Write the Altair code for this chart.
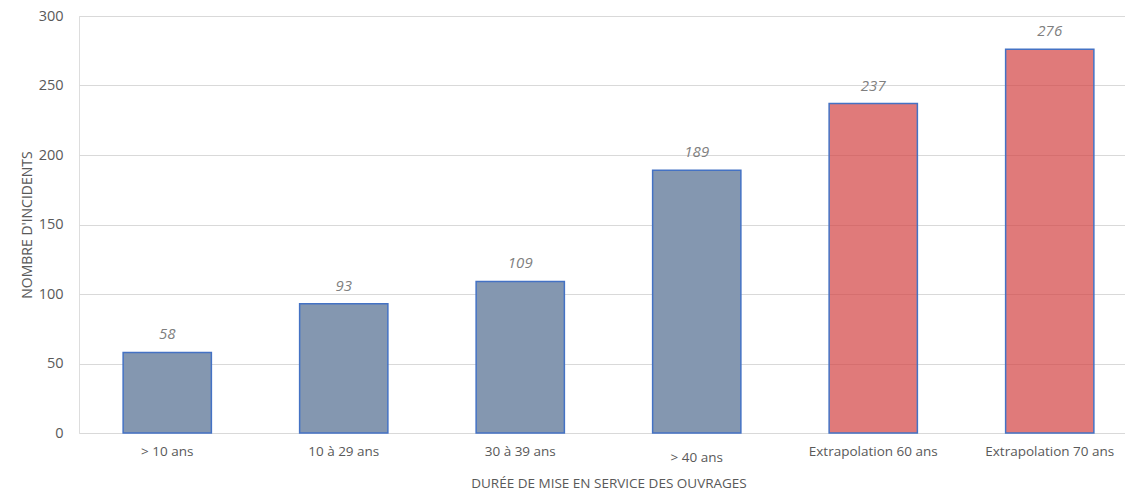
import altair as alt
import pandas as pd

# Incident counts by service duration of structures
categories = ["> 10 ans", "10 à 29 ans", "30 à 39 ans", "> 40 ans",
              "Extrapolation 60 ans", "Extrapolation 70 ans"]
incidents = [58, 93, 109, 189, 237, 276]
kind = ["observé", "observé", "observé", "observé", "extrapolé", "extrapolé"]

df = pd.DataFrame({"cat": categories, "n": incidents, "kind": kind})

FONT = "Open Sans"
LABEL_GREY = "#595959"

x_enc = alt.X(
    "cat:N",
    sort=categories,
    scale=alt.Scale(range=[0, 1059], paddingInner=0.5, paddingOuter=0.25),
    axis=alt.Axis(
        title="DURÉE DE MISE EN SERVICE DES OUVRAGES",
        labelAngle=0,
        domain=False,
        ticks=False,
        labelPadding={"condition": {"test": "datum.value == '> 40 ans'", "value": 17},
                      "value": 11},
        labelFont=FONT, labelFontSize=13.5, labelColor=LABEL_GREY,
        titleFont=FONT, titleFontSize=13.5, titleColor=LABEL_GREY,
        titleFontWeight="normal", titlePadding=13,
    ),
)

y_enc = alt.Y(
    "n:Q",
    scale=alt.Scale(domain=[0, 300], nice=False),
    axis=alt.Axis(
        title="NOMBRE D'INCIDENTS",
        values=[0, 50, 100, 150, 200, 250, 300],
        domain=False,
        ticks=False,
        gridColor="#D9D9D9",
        gridWidth=1.2,
        labelPadding=16,
        labelFont=FONT, labelFontSize=14.5, labelColor=LABEL_GREY,
        titleFont=FONT, titleFontSize=14, titleColor=LABEL_GREY,
        titleFontWeight="normal", titlePadding=4,
    ),
)

bars = alt.Chart(df).mark_bar(stroke="#4472C4", strokeWidth=1.5).encode(
    x=x_enc,
    y=y_enc,
    color=alt.Color(
        "kind:N",
        scale=alt.Scale(domain=["observé", "extrapolé"], range=["#8497B0", "#D34242"]),
        legend=None,
    ),
    fillOpacity=alt.FillOpacity(
        "kind:N",
        scale=alt.Scale(domain=["observé", "extrapolé"], range=[1.0, 0.7]),
        legend=None,
    ),
)

labels = alt.Chart(df).mark_text(
    dy=-18, baseline="middle", font=FONT, fontSize=15,
    fontStyle="italic", color="#7F7F7F",
).encode(
    x=alt.X("cat:N", sort=categories),
    y=alt.Y("n:Q"),
    text=alt.Text("n:Q"),
)

chart = (
    alt.layer(bars, labels)
    .properties(
        width=1046,
        height=417,
        autosize=alt.AutoSizeParams(type="none"),
        padding={"left": 79, "top": 16, "right": 0, "bottom": 61},
    )
    .configure_view(stroke=None)
    .configure(background="white")
)

chart.save("out.html", embed_options={"renderer": "svg", "actions": False})
